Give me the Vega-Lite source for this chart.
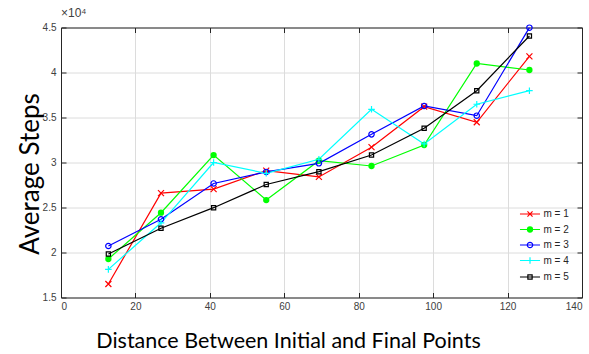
{
  "$schema": "https://vega.github.io/schema/vega-lite/v6.json",
  "width": 521,
  "height": 270,
  "autosize": {"type": "none"},
  "padding": {"left": 61, "top": 27.5, "right": 7, "bottom": 56.5},
  "background": "white",
  "title": {
    "text": "×10⁴",
    "anchor": "start",
    "frame": "group",
    "font": "Liberation Sans",
    "fontSize": 12,
    "fontWeight": "normal",
    "color": "#404040",
    "offset": 3
  },
  "config": {
    "view": {"stroke": null},
    "axis": {
      "labelFont": "Liberation Sans",
      "labelFontSize": 10,
      "labelColor": "#404040",
      "domainColor": "#262626",
      "tickColor": "#262626",
      "gridColor": "#dcdcdc",
      "gridWidth": 1,
      "tickSize": -5,
      "titleFontWeight": "normal",
      "titleColor": "#000000"
    }
  },
  "data": {
    "values": [
      {"d": 12.73, "m": 1, "steps": 16500}, {"d": 26.87, "m": 1, "steps": 26600}, {"d": 41.01, "m": 1, "steps": 27050},
      {"d": 55.15, "m": 1, "steps": 29100}, {"d": 69.3, "m": 1, "steps": 28400}, {"d": 83.44, "m": 1, "steps": 31700},
      {"d": 97.58, "m": 1, "steps": 36200}, {"d": 111.72, "m": 1, "steps": 34470}, {"d": 125.87, "m": 1, "steps": 41800},
      {"d": 12.73, "m": 2, "steps": 19280}, {"d": 26.87, "m": 2, "steps": 24420}, {"d": 41.01, "m": 2, "steps": 30830},
      {"d": 55.15, "m": 2, "steps": 25830}, {"d": 69.3, "m": 2, "steps": 30200}, {"d": 83.44, "m": 2, "steps": 29610},
      {"d": 97.58, "m": 2, "steps": 31940}, {"d": 111.72, "m": 2, "steps": 41000}, {"d": 125.87, "m": 2, "steps": 40280},
      {"d": 12.73, "m": 3, "steps": 20720}, {"d": 26.87, "m": 3, "steps": 23690}, {"d": 41.01, "m": 3, "steps": 27670},
      {"d": 55.15, "m": 3, "steps": 28950}, {"d": 69.3, "m": 3, "steps": 29910}, {"d": 83.44, "m": 3, "steps": 33130},
      {"d": 97.58, "m": 3, "steps": 36280}, {"d": 111.72, "m": 3, "steps": 35200}, {"d": 125.87, "m": 3, "steps": 44980},
      {"d": 12.73, "m": 4, "steps": 18130}, {"d": 26.87, "m": 4, "steps": 23300}, {"d": 41.01, "m": 4, "steps": 30000},
      {"d": 55.15, "m": 4, "steps": 28800}, {"d": 69.3, "m": 4, "steps": 30360}, {"d": 83.44, "m": 4, "steps": 35910},
      {"d": 97.58, "m": 4, "steps": 32060}, {"d": 111.72, "m": 4, "steps": 36470}, {"d": 125.87, "m": 4, "steps": 37980},
      {"d": 12.73, "m": 5, "steps": 19830}, {"d": 26.87, "m": 5, "steps": 22700}, {"d": 41.01, "m": 5, "steps": 24980},
      {"d": 55.15, "m": 5, "steps": 27560}, {"d": 69.3, "m": 5, "steps": 28980}, {"d": 83.44, "m": 5, "steps": 30830},
      {"d": 97.58, "m": 5, "steps": 33800}, {"d": 111.72, "m": 5, "steps": 37980}, {"d": 125.87, "m": 5, "steps": 44060}
    ]
  },
  "layer": [
    {
      "mark": {"type": "line", "strokeWidth": 1.2},
      "encoding": {
        "x": {
          "field": "d", "type": "quantitative",
          "scale": {"domain": [0, 140], "nice": false, "zero": false},
          "axis": {
            "values": [0, 20, 40, 60, 80, 100, 120, 140],
            "labelPadding": 9,
            "title": "Distance Between Initial and Final Points",
            "titleFont": "Lato",
            "titleFontSize": 21.5,
            "titleX": 227,
            "titleY": 50,
            "titleBaseline": "alphabetic",
            "titleAnchor": null
          }
        },
        "y": {
          "field": "steps", "type": "quantitative",
          "scale": {"domain": [15000, 45000], "nice": false, "zero": false},
          "axis": {
            "values": [15000, 20000, 25000, 30000, 35000, 40000, 45000],
            "labelExpr": "format(datum.value / 10000, '.2~f')",
            "labelPadding": 10,
            "title": "Average Steps",
            "titleFont": "Lato",
            "titleFontSize": 26,
            "titleX": -31,
            "titleY": 146,
            "titleAlign": "center",
            "titleBaseline": "middle",
            "titleAnchor": null
          }
        },
        "color": {
          "field": "m", "type": "nominal",
          "scale": {"domain": [1, 2, 3, 4, 5], "range": ["#ff0000", "#00ff00", "#0000ff", "#00ffff", "#000000"]},
          "legend": null
        },
        "detail": {"field": "m"}
      }
    },
    {
      "mark": {"type": "point", "filled": false, "strokeWidth": 1.2, "opacity": 1, "size": 36},
      "encoding": {
        "x": {"field": "d", "type": "quantitative", "axis": null},
        "y": {"field": "steps", "type": "quantitative", "axis": null},
        "color": {
          "field": "m", "type": "nominal",
          "scale": {"domain": [1, 2, 3, 4, 5], "range": ["#ff0000", "#00ff00", "#0000ff", "#00ffff", "#000000"]},
          "legend": null
        },
        "shape": {
          "field": "m", "type": "nominal",
          "scale": {
            "domain": [1, 2, 3, 4, 5],
            "range": [
              "M-1,-1L1,1M-1,1L1,-1",
              "M0.85,0A0.85,0.85 0 1,1 -0.85,0A0.85,0.85 0 1,1 0.85,0M0.5,0A0.5,0.5 0 1,1 -0.5,0A0.5,0.5 0 1,1 0.5,0M0.2,0A0.2,0.2 0 1,1 -0.2,0A0.2,0.2 0 1,1 0.2,0",
              "M0.9,0A0.9,0.9 0 1,1 -0.9,0A0.9,0.9 0 1,1 0.9,0",
              "M-1.1,0H1.1M0,-1.1V1.1",
              "M-0.7,-0.7H0.7V0.7H-0.7Z"
            ]
          },
          "legend": null
        }
      }
    },
    {
      "transform": [{"filter": "datum.d < 0"}],
      "mark": {"type": "point", "filled": false, "strokeWidth": 1.2, "opacity": 1},
      "encoding": {
        "x": {
          "field": "d", "type": "quantitative",
          "axis": {"orient": "top", "labels": false, "grid": false, "title": null, "values": [0, 20, 40, 60, 80, 100, 120, 140]}
        },
        "y": {
          "field": "steps", "type": "quantitative",
          "axis": {"orient": "right", "labels": false, "grid": false, "title": null, "values": [15000, 20000, 25000, 30000, 35000, 40000, 45000]}
        },
        "color": {
          "field": "m", "type": "nominal",
          "scale": {"domain": [1, 2, 3, 4, 5], "range": ["#ff0000", "#00ff00", "#0000ff", "#00ffff", "#000000"]},
          "legend": {
            "orient": "none",
            "legendX": 459.5,
            "legendY": 177,
            "title": null,
            "padding": 0,
            "symbolSize": 289,
            "symbolStrokeWidth": 1.2,
            "rowPadding": 0.5,
            "labelOffset": 4,
            "labelFont": "Liberation Sans",
            "labelFontSize": 10,
            "labelColor": "#262626",
            "labelExpr": "'m = ' + datum.label"
          }
        },
        "shape": {
          "field": "m", "type": "nominal",
          "scale": {
            "domain": [1, 2, 3, 4, 5],
            "range": [
              "M-1.18,0H1.18M-0.3,-0.3L0.3,0.3M-0.3,0.3L0.3,-0.3",
              "M-1.18,0H1.18M0.3,0A0.3,0.3 0 1,1 -0.3,0A0.3,0.3 0 1,1 0.3,0M0.18,0A0.18,0.18 0 1,1 -0.18,0A0.18,0.18 0 1,1 0.18,0M0.07,0A0.07,0.07 0 1,1 -0.07,0A0.07,0.07 0 1,1 0.07,0",
              "M-1.18,0H1.18M0.32,0A0.32,0.32 0 1,1 -0.32,0A0.32,0.32 0 1,1 0.32,0",
              "M-1.18,0H1.18M0,-0.38V0.38",
              "M-1.18,0H1.18M-0.25,-0.25H0.25V0.25H-0.25Z"
            ]
          },
          "legend": {
            "orient": "none",
            "legendX": 459.5,
            "legendY": 177,
            "title": null,
            "padding": 0,
            "symbolSize": 289,
            "symbolStrokeWidth": 1.2,
            "rowPadding": 0.5,
            "labelOffset": 4,
            "labelFont": "Liberation Sans",
            "labelFontSize": 10,
            "labelColor": "#262626",
            "labelExpr": "'m = ' + datum.label"
          }
        }
      }
    }
  ],
  "resolve": {
    "scale": {"color": "independent", "shape": "independent"},
    "axis": {"x": "independent", "y": "independent"}
  }
}
